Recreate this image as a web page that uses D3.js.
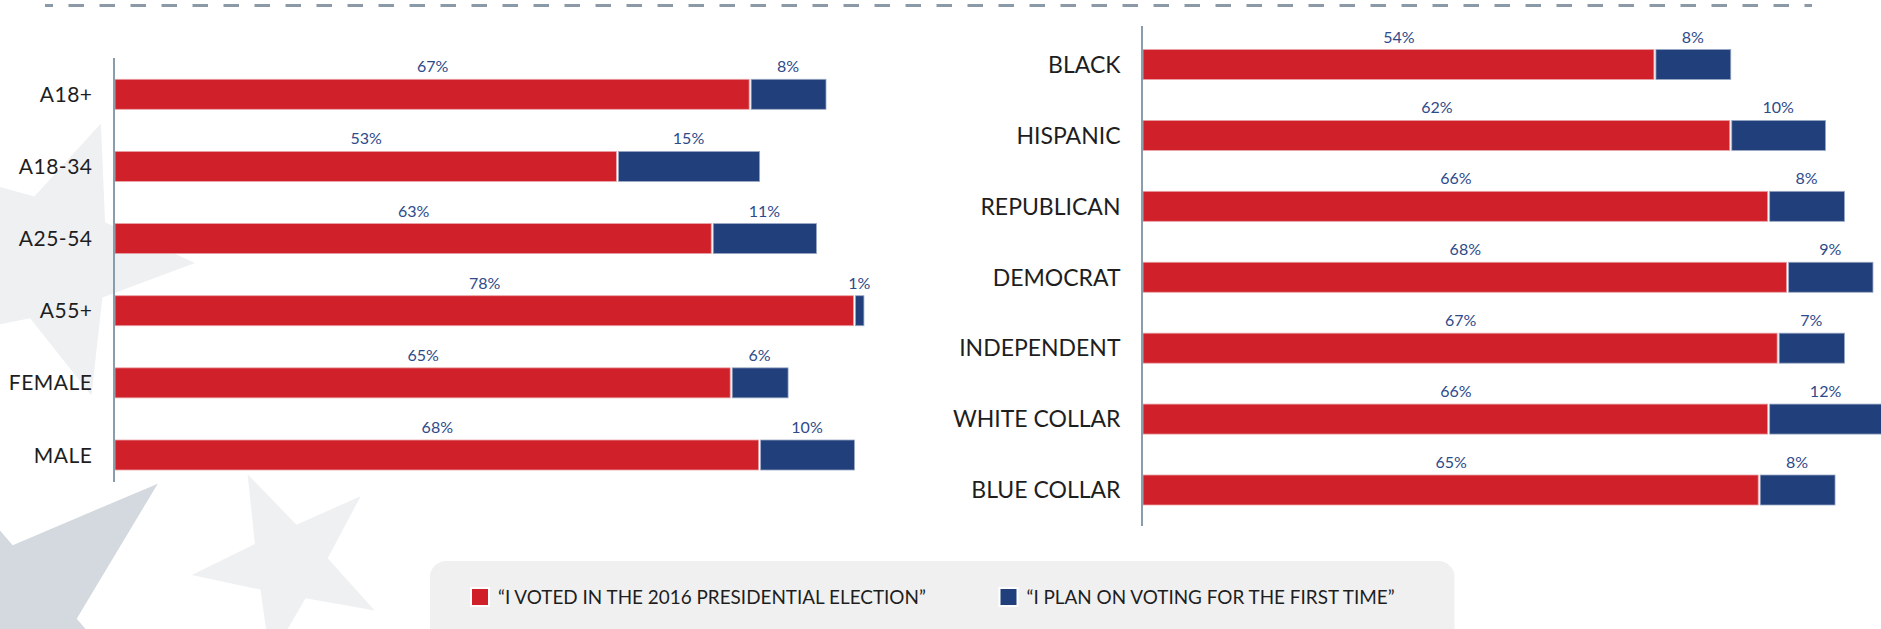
<!DOCTYPE html>
<html>
<head>
<meta charset="utf-8">
<script src="https://cdn.jsdelivr.net/npm/d3@7"></script>
<style>
  html, body { margin: 0; padding: 0; background: #ffffff; }
  svg { display: block; }
  text { font-family: Lato, "Open Sans", sans-serif; }
</style>
</head>
<body>
<svg id="chart" width="1881" height="629"></svg>
<script>
// ---- data ----
const leftCategories = ["A18+", "A18-34", "A25-54", "A55+", "FEMALE", "MALE"];
const leftVoted = [67, 53, 63, 78, 65, 68];
const leftFirstTime = [8, 15, 11, 1, 6, 10];

const rightCategories = ["BLACK", "HISPANIC", "REPUBLICAN", "DEMOCRAT", "INDEPENDENT", "WHITE COLLAR", "BLUE COLLAR"];
const rightVoted = [54, 62, 66, 68, 67, 66, 65];
const rightFirstTime = [8, 10, 8, 9, 7, 12, 8];

const seriesNames = ["\u201CI VOTED IN THE 2016 PRESIDENTIAL ELECTION\u201D", "\u201CI PLAN ON VOTING FOR THE FIRST TIME\u201D"];
const seriesColors = ["#d0212a", "#213f7b"];

// ---- drawing ----
const svg = d3.select("#chart");

// decorative background stars
function starPoints(cx, cy, R, r, rotDeg) {
  const pts = [];
  for (let i = 0; i < 10; i++) {
    const a = (rotDeg + i * 36) * Math.PI / 180;
    const rad = i % 2 === 0 ? R : r;
    pts.push([cx + rad * Math.sin(a), cy - rad * Math.cos(a)]);
  }
  return pts;
}
const starLine = d3.line().curve(d3.curveLinearClosed);
const bg = svg.append("g");
bg.append("path").attr("d", starLine(starPoints(52, 258, 143, 64, 20))).attr("fill", "#eff0f2");
bg.append("path").attr("d", starLine(starPoints(289, 563, 98, 39, -25))).attr("fill", "#eff0f2");
bg.append("path").attr("d", starLine(starPoints(-6, 626, 217, 83, 49))).attr("fill", "#d3d9de");

// dashed top rule
svg.append("line")
  .attr("x1", 45).attr("x2", 1812).attr("y1", 5.5).attr("y2", 5.5)
  .attr("stroke", "#8b9aa6").attr("stroke-width", 3)
  .attr("stroke-dasharray", "15.5 15.5").attr("stroke-dashoffset", 7.5);

function drawPanel(cfg) {
  const { categories, voted, first, x0, yFirst, yLast, axisTop, axisBottom, labelX, labelSize, labelSpacing } = cfg;
  const x = d3.scaleLinear().domain([0, 100]).range([x0, x0 + 948]);
  const y = d3.scalePoint().domain(categories).range([yFirst, yLast]);
  const bh = 30;
  const g = svg.append("g");

  const rows = categories.map((c, i) => ({ c, v1: voted[i], v2: first[i] }));

  g.selectAll("rect.v1").data(rows).join("rect")
    .attr("x", x(0))
    .attr("y", d => y(d.c) - bh / 2)
    .attr("width", d => x(d.v1) - x(0) - 1)
    .attr("height", bh)
    .attr("fill", seriesColors[0])
    .attr("stroke", "#e9a3a7").attr("stroke-width", 0.8);

  g.selectAll("rect.v2").data(rows).join("rect")
    .attr("x", d => x(d.v1) + 1)
    .attr("y", d => y(d.c) - bh / 2)
    .attr("width", d => Math.max(1, x(d.v1 + d.v2) - x(d.v1) - 1))
    .attr("height", bh)
    .attr("fill", seriesColors[1])
    .attr("stroke", "#9aa8c4").attr("stroke-width", 0.8);

  g.selectAll("text.l1").data(rows).join("text")
    .attr("x", d => (x(0) + x(d.v1)) / 2)
    .attr("y", d => y(d.c) - bh / 2 - 7)
    .attr("text-anchor", "middle")
    .attr("font-size", 16).attr("fill", "#2d4a8a")
    .text(d => d.v1 + "%");
  g.selectAll("text.l2").data(rows).join("text")
    .attr("x", d => (x(d.v1) + x(d.v1 + d.v2)) / 2)
    .attr("y", d => y(d.c) - bh / 2 - 7)
    .attr("text-anchor", "middle")
    .attr("font-size", 16).attr("fill", "#2d4a8a")
    .text(d => d.v2 + "%");

  g.selectAll("text.cat").data(rows).join("text")
    .attr("x", labelX)
    .attr("y", d => y(d.c) + labelSize * 0.36)
    .attr("text-anchor", "end")
    .attr("font-size", labelSize).attr("fill", "#1e1e1e")
    .attr("letter-spacing", labelSpacing)
    .text(d => d.c);

  g.append("line")
    .attr("x1", x0 - 1).attr("x2", x0 - 1)
    .attr("y1", axisTop).attr("y2", axisBottom)
    .attr("stroke", "#8a9dad").attr("stroke-width", 2);
}

drawPanel({
  categories: leftCategories, voted: leftVoted, first: leftFirstTime,
  x0: 115, yFirst: 94.3, yLast: 455, axisTop: 58, axisBottom: 482,
  labelX: 92.5, labelSize: 21, labelSpacing: 0.5
});
drawPanel({
  categories: rightCategories, voted: rightVoted, first: rightFirstTime,
  x0: 1143, yFirst: 64.5, yLast: 490, axisTop: 26, axisBottom: 526,
  labelX: 1120.5, labelSize: 23, labelSpacing: 0
});

// legend
const lg = svg.append("g");
lg.append("rect")
  .attr("x", 430).attr("y", 561).attr("width", 1024.5).attr("height", 100)
  .attr("rx", 16).attr("fill", "#f0f0f0");
const legendX = [471, 999.5];
seriesNames.forEach((name, i) => {
  lg.append("rect")
    .attr("x", legendX[i]).attr("y", 588).attr("width", 18).attr("height", 18)
    .attr("fill", seriesColors[i]).attr("stroke", "#ffffff").attr("stroke-width", 2);
  lg.append("text")
    .attr("x", legendX[i] + 27).attr("y", 603.5)
    .attr("font-size", 18.9).attr("fill", "#1e1e1e")
    .text(name);
});
</script>
</body>
</html>
